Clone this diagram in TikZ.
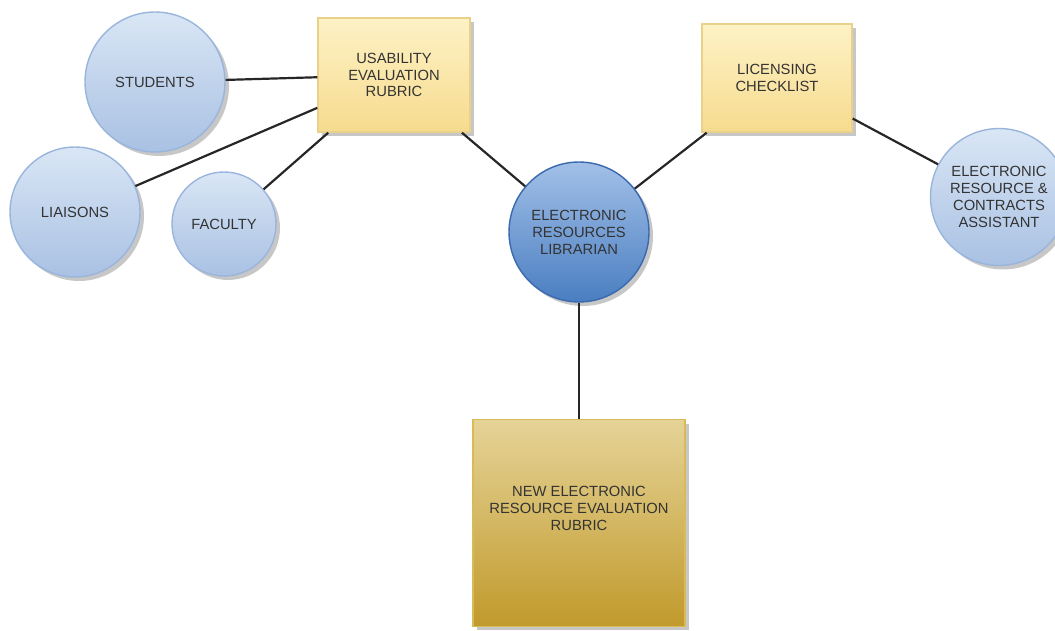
\documentclass[tikz,border=0pt]{standalone}
\usepackage{fontspec}
\setmainfont{Liberation Sans}
\usepackage{xcolor}
\usetikzlibrary{shadows}
\definecolor{lblueT}{HTML}{D9E6F5}
\definecolor{lblueB}{HTML}{A9C1E3}
\definecolor{lblueD}{HTML}{9AB5DC}
\definecolor{dblueT}{HTML}{A2C0E8}
\definecolor{dblueB}{HTML}{4A7EC1}
\definecolor{dblueD}{HTML}{3A69AE}
\definecolor{ylwT}{HTML}{FDF2C6}
\definecolor{ylwB}{HTML}{F7DB8E}
\definecolor{ylwD}{HTML}{E9D189}
\definecolor{goldT}{HTML}{E5D397}
\definecolor{goldB}{HTML}{C19A2C}
\definecolor{goldD}{HTML}{D9BB55}
\definecolor{txt}{HTML}{333333}
\tikzstyle{shade}    = [drop shadow={shadow xshift=0.08cm, shadow yshift=-0.08cm, fill=black!40, opacity=0.55}]
\tikzstyle{person}   = [circle, shade, top color=lblueT, bottom color=lblueB, draw=lblueD, line width=0.8pt,
    text=txt, align=center, inner sep=0pt, font=\fontsize{8.4}{9.6}\selectfont]
\tikzstyle{central}  = [person, top color=dblueT, bottom color=dblueB, draw=dblueD]
\tikzstyle{document} = [rectangle, shade, top color=ylwT, bottom color=ylwB, draw=ylwD, line width=0.8pt,
    text=txt, align=center, font=\fontsize{8.4}{9.6}\selectfont]
\tikzstyle{result}   = [document, top color=goldT, bottom color=goldB, draw=goldD]
\tikzstyle{link}     = [line width=1.25pt, draw=black!85]

\begin{document}
\begin{tikzpicture}[x=0.02cm, y=-0.02cm]
    \useasboundingbox (0,0) rectangle (1055,631);
    \node (students) [person, minimum size=2.8cm]   at (155,82)  {STUDENTS};
    \node (liaisons) [person, minimum size=2.6cm]   at (75,212)  {LIAISONS};
    \node (faculty)  [person, minimum size=2.08cm]  at (224,224) {FACULTY};
    \node (usab)     [document, minimum width=3.04cm, minimum height=2.28cm] at (394,75)
        {USABILITY\\EVALUATION\\RUBRIC};
    \node (lib)      [central, minimum size=2.8cm]  at (579,232) {ELECTRONIC\\RESOURCES\\LIBRARIAN};
    \node (licens)   [document, minimum width=3.0cm, minimum height=2.16cm] at (777,78)
        {LICENSING\\CHECKLIST};
    \node (assist)   [person, minimum size=2.74cm]  at (999,197)
        {ELECTRONIC\\RESOURCE \&\\CONTRACTS\\ASSISTANT};
    \node (newrub)   [result, minimum width=4.24cm, minimum height=4.14cm] at (579,523)
        {NEW ELECTRONIC\\RESOURCE EVALUATION\\RUBRIC\\[0.8em]};
    \draw [link] (students) -- (usab);
    \draw [link] (liaisons) -- (usab);
    \draw [link] (faculty)  -- (usab);
    \draw [link] (usab)     -- (lib);
    \draw [link] (licens)   -- (lib);
    \draw [link] (licens)   -- (assist);
    \draw [link] (lib)      -- (newrub);
\end{tikzpicture}
\end{document}
